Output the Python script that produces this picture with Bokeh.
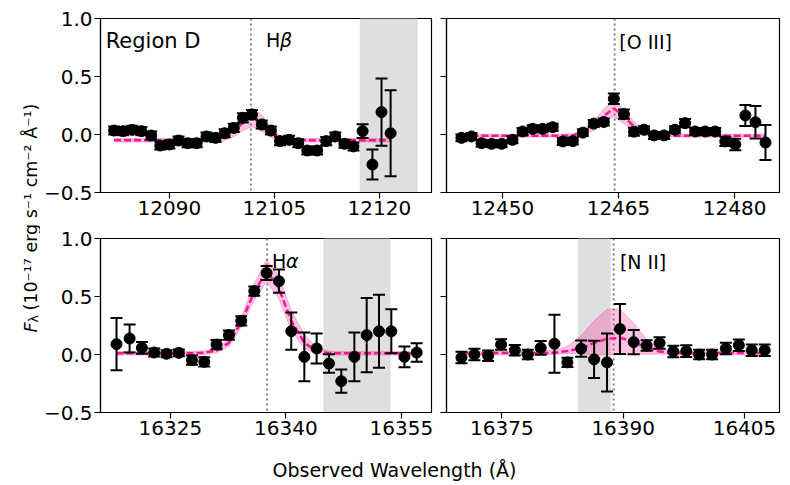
import math
from bokeh.plotting import figure
from bokeh.models import Range1d, FixedTicker, BoxAnnotation, Span, Label, ColumnDataSource, CustomJSTickFormatter
from bokeh.layouts import row, column
from bokeh.embed import file_html
from bokeh.resources import INLINE

FONT = "DejaVu Sans"
PINK = "#ff1493"
TICK_FS = "20px"
LAB_FS = "19px"

# ---------------- data ----------------
ytick_vals = [-0.5, 0.0, 0.5, 1.0]
ylim = [-0.5, 1.0]

# Panel 1: H-beta
hb_x = [12082.1, 12083.4, 12084.7, 12086.0, 12087.4, 12088.7, 12090.0, 12091.3, 12092.6, 12093.9,
        12095.3, 12096.6, 12097.9, 12099.2, 12100.5, 12101.8, 12103.2, 12104.5, 12105.8, 12107.1,
        12108.4, 12109.7, 12111.1, 12112.4, 12113.7, 12115.0, 12116.3, 12117.6, 12119.0, 12120.3, 12121.6]
hb_y = [0.034, 0.029, 0.040, 0.029, -0.009, -0.095, -0.086, -0.052, -0.075, -0.075,
        -0.017, -0.029, 0.011, 0.057, 0.144, 0.172, 0.086, 0.034, -0.057, -0.046,
        -0.075, -0.138, -0.138, -0.057, -0.017, -0.080, -0.103, 0.029, -0.259, 0.193, 0.011]
hb_err = [0.035, 0.035, 0.035, 0.035, 0.035, 0.035, 0.035, 0.035, 0.035, 0.035,
          0.035, 0.035, 0.035, 0.035, 0.04, 0.04, 0.035, 0.035, 0.035, 0.035,
          0.035, 0.035, 0.035, 0.035, 0.035, 0.035, 0.035, 0.06, 0.13, 0.29, 0.37]
hb_model = [-0.05, -0.05, -0.05, -0.05, -0.05, -0.05, -0.05, -0.05, -0.05, -0.05,
            -0.049, -0.046, -0.031, 0.021, 0.104, 0.15, 0.098, 0.015, -0.033, -0.047,
            -0.05, -0.05, -0.05, -0.05, -0.05, -0.05, -0.05, -0.05, -0.05, -0.05, -0.05]
hb_lo = [-0.065, -0.065, -0.065, -0.065, -0.065, -0.065, -0.065, -0.065, -0.065, -0.065,
         -0.064, -0.061, -0.051, -0.019, 0.034, 0.07, 0.028, -0.025, -0.053, -0.062,
         -0.065, -0.065, -0.065, -0.065, -0.065, -0.065, -0.065, -0.065, -0.065, -0.065, -0.065]
hb_hi = [-0.035, -0.035, -0.035, -0.035, -0.035, -0.035, -0.035, -0.035, -0.035, -0.035,
         -0.034, -0.031, -0.011, 0.061, 0.174, 0.23, 0.168, 0.055, -0.013, -0.032,
         -0.035, -0.035, -0.035, -0.035, -0.035, -0.035, -0.035, -0.035, -0.035, -0.035, -0.035]
hb_xlim = [12080.16, 12127.44]
hb_ticks = [12090, 12105, 12120]
hb_line = 12101.64
hb_mask = [12117.26, 12125.4]

# Panel 2: [O III]
o3_x = [12444.7, 12446.0, 12447.3, 12448.6, 12449.9, 12451.3, 12452.6, 12453.9, 12455.2, 12456.5,
        12457.8, 12459.1, 12460.4, 12461.8, 12463.1, 12464.4, 12465.7, 12467.0, 12468.3, 12469.6,
        12470.9, 12472.3, 12473.6, 12474.9, 12476.2, 12477.5, 12478.8, 12480.1, 12481.4, 12482.7, 12484.0]
o3_y = [-0.029, -0.017, -0.075, -0.080, -0.080, -0.046, 0.026, 0.049, 0.049, 0.063,
        -0.060, -0.057, 0.016, 0.094, 0.108, 0.308, 0.175, 0.024, 0.041, -0.008,
        -0.008, 0.041, 0.098, 0.026, 0.026, 0.026, -0.060, -0.086, 0.164, 0.106, -0.069]
o3_err = [0.03, 0.03, 0.03, 0.03, 0.03, 0.03, 0.03, 0.03, 0.03, 0.03,
          0.03, 0.03, 0.03, 0.03, 0.03, 0.045, 0.04, 0.035, 0.03, 0.03,
          0.03, 0.03, 0.035, 0.03, 0.03, 0.03, 0.04, 0.05, 0.09, 0.14, 0.15]
o3_model = [-0.01, -0.01, -0.01, -0.01, -0.01, -0.01, -0.01, -0.01, -0.01, -0.01,
            -0.01, -0.008, 0.02, 0.075, 0.16, 0.225, 0.155, 0.07, 0.015, -0.005,
            -0.01, -0.01, -0.01, -0.01, -0.01, -0.01, -0.01, -0.01, -0.01, -0.01, -0.01]
o3_lo = [-0.022, -0.022, -0.022, -0.022, -0.022, -0.022, -0.022, -0.022, -0.022, -0.022,
         -0.022, -0.02, 0.0, 0.035, 0.10, 0.155, 0.095, 0.03, -0.005, -0.017,
         -0.022, -0.022, -0.022, -0.022, -0.022, -0.022, -0.022, -0.022, -0.022, -0.022, -0.022]
o3_hi = [0.002, 0.002, 0.002, 0.002, 0.002, 0.002, 0.002, 0.002, 0.002, 0.002,
         0.002, 0.004, 0.04, 0.115, 0.22, 0.295, 0.215, 0.11, 0.035, 0.007,
         0.002, 0.002, 0.002, 0.002, 0.002, 0.002, 0.002, 0.002, 0.002, 0.002, 0.002]
o3_xlim = [12442.77, 12485.81]
o3_ticks = [12450, 12465, 12480]
o3_line = 12464.5

# Panel 3: H-alpha
ha_x = [16318.0, 16319.7, 16321.3, 16322.9, 16324.5, 16326.1, 16327.8, 16329.4, 16331.0, 16332.6,
        16334.2, 16335.9, 16337.5, 16339.1, 16340.7, 16342.4, 16344.0, 16345.6, 16347.2, 16348.9,
        16350.5, 16352.1, 16353.7, 16355.4, 16357.0]
ha_y = [0.089, 0.138, 0.057, 0.017, 0.006, 0.014, -0.049, -0.063, 0.086, 0.167,
        0.290, 0.546, 0.702, 0.632, 0.201, -0.020, 0.052, -0.078, -0.230, -0.020,
        0.167, 0.200, 0.200, -0.020, 0.017]
ha_err = [0.225, 0.12, 0.05, 0.035, 0.03, 0.03, 0.04, 0.04, 0.04, 0.04,
          0.04, 0.04, 0.06, 0.10, 0.16, 0.21, 0.13, 0.08, 0.10, 0.21,
          0.32, 0.315, 0.19, 0.09, 0.08]
ha_model = [0.01, 0.01, 0.01, 0.01, 0.01, 0.01, 0.01, 0.015, 0.035, 0.10,
            0.28, 0.54, 0.72, 0.57, 0.29, 0.10, 0.03, 0.012, 0.01, 0.01,
            0.01, 0.01, 0.01, 0.01, 0.01]
ha_lo = [-0.005, -0.005, -0.005, -0.005, -0.005, -0.005, -0.005, 0.0, 0.015, 0.07,
         0.24, 0.47, 0.63, 0.48, 0.21, 0.05, 0.01, -0.003, -0.005, -0.005,
         -0.005, -0.005, -0.005, -0.005, -0.005]
ha_hi = [0.025, 0.025, 0.025, 0.025, 0.025, 0.025, 0.025, 0.03, 0.055, 0.13,
         0.32, 0.61, 0.82, 0.67, 0.38, 0.17, 0.06, 0.028, 0.025, 0.025,
         0.025, 0.025, 0.025, 0.025, 0.025]
ha_xlim = [16315.92, 16358.92]
ha_ticks = [16325, 16340, 16355]
ha_line = 16337.57
ha_mask = [16344.94, 16353.54]

# Panel 4: [N II]
n2_x = [16370.0, 16371.6, 16373.3, 16374.9, 16376.6, 16378.2, 16379.8, 16381.5, 16383.1, 16384.8,
        16386.4, 16388.0, 16389.6, 16391.3, 16392.9, 16394.5, 16396.2, 16397.8, 16399.4, 16401.0,
        16402.7, 16404.3, 16405.9, 16407.5]
n2_y = [-0.026, 0.0, -0.011, 0.086, 0.037, 0.0, 0.057, 0.093, -0.068, 0.050,
        -0.042, -0.068, 0.220, 0.107, 0.077, 0.099, 0.026, 0.029, 0.0, 0.0,
        0.052, 0.080, 0.037, 0.037]
n2_err = [0.05, 0.05, 0.045, 0.045, 0.045, 0.04, 0.06, 0.25, 0.04, 0.07,
          0.16, 0.25, 0.215, 0.105, 0.045, 0.05, 0.05, 0.05, 0.04, 0.04,
          0.05, 0.05, 0.05, 0.05]
n2_model = [0.01, 0.01, 0.012, 0.012, 0.012, 0.012, 0.013, 0.016, 0.03, 0.055,
            0.10, 0.135, 0.145, 0.11, 0.06, 0.025, 0.015, 0.012, 0.012, 0.012,
            0.012, 0.012, 0.012, 0.012]
n2_lo = [-0.005, -0.005, -0.003, -0.003, -0.003, -0.003, -0.002, 0.001, 0.01, 0.005,
         0.0, 0.0, 0.0, 0.0, 0.003, 0.005, 0.0, -0.003, -0.003, -0.003,
         -0.003, -0.003, -0.003, -0.003]
n2_hi = [0.025, 0.025, 0.027, 0.027, 0.027, 0.027, 0.03, 0.04, 0.07, 0.16,
         0.29, 0.39, 0.39, 0.27, 0.13, 0.05, 0.03, 0.027, 0.027, 0.027,
         0.027, 0.027, 0.027, 0.027]
n2_xlim = [16368.15, 16409.33]
n2_ticks = [16375, 16390, 16405]
n2_line = 16388.82
n2_mask = [16384.47, 16388.43]

YFMT = CustomJSTickFormatter(code="return tick.toFixed(1).replace('-', '\\u2212');")
XFMT = CustomJSTickFormatter(code="return tick.toFixed(0);")


# ---------------- figure helpers ----------------
def panel(xs, ys, es, ms, los, his, xlim, ticks, line_wl, mask,
          w, h, bl, br, bt, bb, show_ylabels):
    p = figure(width=w, height=h, x_range=Range1d(xlim[0], xlim[1]),
               y_range=Range1d(ylim[0], ylim[1]), output_backend="svg",
               toolbar_location=None, min_border_left=bl, min_border_right=br,
               min_border_top=bt, min_border_bottom=bb)
    p.grid.visible = False
    p.outline_line_color = "black"
    p.outline_line_width = 1.2
    p.background_fill_color = "white"
    p.border_fill_color = "white"
    if mask is not None:
        p.add_layout(BoxAnnotation(left=mask[0], right=mask[1], fill_color="#dfdfdf",
                                   fill_alpha=1.0, line_color="#c8c8c8", line_width=1.2,
                                   level="underlay"))
    p.add_layout(Span(location=line_wl, dimension="height", line_color="#808080",
                      line_dash="2 3", line_width=2, level="underlay"))
    src = ColumnDataSource(dict(
        x=xs, y=ys,
        top=[a + b for a, b in zip(ys, es)],
        bot=[a - b for a, b in zip(ys, es)],
        m=ms, lo=los, hi=his))
    p.varea(x="x", y1="lo", y2="hi", source=src, fill_color=PINK, fill_alpha=0.25)
    p.line("x", "lo", source=src, line_color=PINK, line_alpha=0.3, line_width=1)
    p.line("x", "hi", source=src, line_color=PINK, line_alpha=0.3, line_width=1)
    p.line("x", "m", source=src, line_color=PINK, line_width=2.5, line_dash="7 3")
    p.segment(x0="x", y0="bot", x1="x", y1="top", source=src, line_color="black", line_width=2)
    p.scatter("x", "top", source=src, marker="dash", size=12, line_color="black", line_width=2)
    p.scatter("x", "bot", source=src, marker="dash", size=12, line_color="black", line_width=2)
    p.scatter("x", "y", source=src, size=11, fill_color="black", line_color="black")

    p.xaxis.ticker = FixedTicker(ticks=ticks)
    p.xaxis.formatter = XFMT
    p.yaxis.ticker = FixedTicker(ticks=ytick_vals)
    p.yaxis.formatter = YFMT
    for ax in (p.xaxis[0], p.yaxis[0]):
        ax.minor_tick_line_color = None
        ax.major_tick_in = 0
        ax.major_tick_out = 6
        ax.major_tick_line_width = 1.2
        ax.axis_line_width = 1.2
        ax.major_label_text_font = FONT
        ax.major_label_text_font_size = TICK_FS
        ax.major_label_text_color = "black"
    p.xaxis.major_label_standoff = 2
    if show_ylabels:
        p.yaxis.major_label_standoff = 2
    else:
        p.yaxis.major_label_text_color = None
        p.yaxis.major_label_standoff = 0
    return p


def add_text(p, x, y, parts, size=LAB_FS):
    off = 0.0
    for txt, style, width in parts:
        p.add_layout(Label(x=x, y=y, x_offset=off, text=txt, text_font=FONT,
                           text_font_size=size, text_font_style=style,
                           text_baseline="alphabetic", text_align="left",
                           text_color="black"))
        off += width


TOP_H, BOT_H, XL_H = 224, 226, 33
YL_W, LW, RW = 40, 398, 344

p1 = panel(hb_x, hb_y, hb_err, hb_model, hb_lo, hb_hi, hb_xlim, hb_ticks,
           hb_line, hb_mask, LW, TOP_H, 58, 7, 18, 32, True)
p2 = panel(o3_x, o3_y, o3_err, o3_model, o3_lo, o3_hi, o3_xlim, o3_ticks,
           o3_line, None, RW, TOP_H, 8, 3, 18, 32, False)
p3 = panel(ha_x, ha_y, ha_err, ha_model, ha_lo, ha_hi, ha_xlim, ha_ticks,
           ha_line, ha_mask, LW, BOT_H, 58, 7, 14, 38, True)
p4 = panel(n2_x, n2_y, n2_err, n2_model, n2_lo, n2_hi, n2_xlim, n2_ticks,
           n2_line, n2_mask, RW, BOT_H, 8, 3, 14, 38, False)

add_text(p1, 12080.9, 0.807, [("Region D", "normal", 0)], size="21px")
add_text(p1, 12103.8, 0.815, [("H", "normal", 14), ("\u03b2", "italic", 0)])
add_text(p2, 12465.1, 0.795, [("[O III]", "normal", 0)])
add_text(p3, 16338.2, 0.805, [("H", "normal", 14), ("\u03b1", "italic", 0)])
add_text(p4, 16389.6, 0.797, [("[N II]", "normal", 0)])

# x label strip
xl = figure(width=LW + RW, height=XL_H, x_range=Range1d(0, LW + RW), y_range=Range1d(0, XL_H),
            output_backend="svg", toolbar_location=None, min_border=0,
            x_axis_location=None, y_axis_location=None)
xl.grid.visible = False
xl.outline_line_color = None
xl.add_layout(Label(x=354, y=14, text="Observed Wavelength (\u00c5)", text_font=FONT,
                    text_font_size=LAB_FS, text_align="center", text_baseline="alphabetic",
                    text_color="black"))

# y label strip
YL_H = TOP_H + BOT_H + XL_H
yl = figure(width=YL_W, height=YL_H, x_range=Range1d(0, YL_W), y_range=Range1d(0, YL_H),
            output_backend="svg", toolbar_location=None, min_border=0,
            x_axis_location=None, y_axis_location=None)
yl.grid.visible = False
yl.outline_line_color = None
ang = math.pi / 2
y0 = 151
yl.add_layout(Label(x=30, y=y0, text="F", text_font=FONT, text_font_size="17.5px",
                    text_font_style="italic", angle=ang, text_align="left",
                    text_baseline="alphabetic", text_color="black"))
yl.add_layout(Label(x=33, y=y0 + 10, text="\u03bb", text_font=FONT, text_font_size="12.5px",
                    angle=ang, text_align="left", text_baseline="alphabetic", text_color="black"))
yl.add_layout(Label(x=30, y=y0 + 22,
                    text="(10\u207b\u00b9\u2077 erg s\u207b\u00b9 cm\u207b\u00b2 \u00c5\u207b\u00b9)",
                    text_font=FONT, text_font_size="17.5px", angle=ang, text_align="left",
                    text_baseline="alphabetic", text_color="black"))

layout = row(yl, column(row(p1, p2), row(p3, p4), xl))

open("out.html", "w").write(file_html(layout, INLINE))
